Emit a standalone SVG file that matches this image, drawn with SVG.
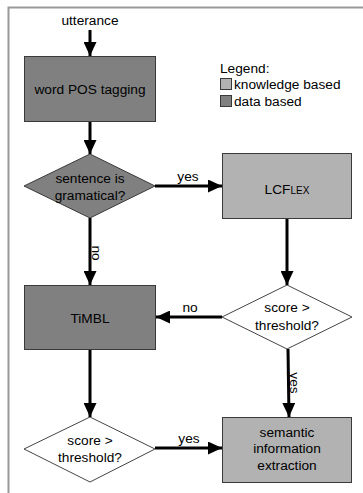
<svg xmlns="http://www.w3.org/2000/svg" width="363" height="493" viewBox="0 0 363 493">
<defs>
<style>
text{font-family:"Liberation Sans",Arial,sans-serif;font-size:13.7px;fill:#000;text-anchor:middle}
.dark{fill:#808080;stroke:#3a3a3a;stroke-width:1}
.light{fill:#b2b2b2;stroke:#3a3a3a;stroke-width:1}
.dia{fill:#fff;stroke:#444;stroke-width:1}
.ddia{fill:#808080;stroke:#3a3a3a;stroke-width:1}
.edge{stroke:#000;stroke-width:3;fill:none;marker-end:url(#ah)}
</style>
<marker id="ah" markerUnits="userSpaceOnUse" markerWidth="14" markerHeight="13" viewBox="0 0 14 13" refX="14" refY="6.5" orient="auto">
<path d="M0,0 L14,6.5 L0,13 Z" fill="#000"/>
</marker>
</defs>
<rect width="363" height="493" fill="#fff"/>
<path d="M8.5,493 V7.5 H363" fill="none" stroke="#999" stroke-width="2"/>
<g id="utterance"><text x="90" y="25">utterance</text></g>
<g id="legend">
<text x="220" y="73" style="text-anchor:start">Legend:</text>
<rect x="220.5" y="78.5" width="11" height="11" class="light"/>
<text x="234" y="89" style="text-anchor:start">knowledge based</text>
<rect x="220.5" y="95.5" width="11" height="11" class="dark"/>
<text x="234" y="106" style="text-anchor:start">data based</text>
</g>
<g id="pos"><rect x="24.5" y="56.5" width="131" height="65" class="dark"/><text x="90" y="94">word POS tagging</text></g>
<g id="gram"><polygon points="90,154 155,186 90,218 24,186" class="ddia"/><text x="90" y="183">sentence is</text><text x="90" y="200">gramatical?</text></g>
<g id="lcflex"><rect x="222.5" y="153.5" width="129" height="65" class="light"/><text x="287" y="194">LCF<tspan style="font-size:10px">LEX</tspan></text></g>
<g id="timbl"><rect x="24.5" y="285.5" width="131" height="64" class="dark"/><text x="90" y="323">TiMBL</text></g>
<g id="score1"><polygon points="287,285 352,317 287,349 222,317" class="dia"/><text x="287" y="312">score &gt;</text><text x="287" y="330">threshold?</text></g>
<g id="score2"><polygon points="90,417 155,449 90,482 24,449" class="dia"/><text x="90" y="445">score &gt;</text><text x="90" y="462">threshold?</text></g>
<g id="semantic"><rect x="222.5" y="417.5" width="129" height="65" class="light"/><text x="287" y="437">semantic</text><text x="287" y="453">information</text><text x="287" y="470">extraction</text></g>
<g id="connectors">
<line x1="90" y1="30" x2="90" y2="56" class="edge"/>
<line x1="90" y1="122" x2="90" y2="154" class="edge"/>
<line x1="155" y1="186" x2="222" y2="186" class="edge"/>
<text x="188" y="181">yes</text>
<line x1="90" y1="218" x2="90" y2="285" class="edge"/>
<text x="0" y="0" transform="translate(92,253) rotate(90)">no</text>
<line x1="287" y1="219" x2="287" y2="285" class="edge"/>
<line x1="222" y1="317" x2="156" y2="317" class="edge"/>
<text x="190" y="312">no</text>
<line x1="90" y1="350" x2="90" y2="417" class="edge"/>
<line x1="155" y1="448" x2="222" y2="448" class="edge"/>
<text x="189" y="443">yes</text>
<line x1="288" y1="349" x2="289" y2="417" class="edge"/>
<text x="0" y="0" transform="translate(290,383) rotate(90)">yes</text>
</g>
</svg>
